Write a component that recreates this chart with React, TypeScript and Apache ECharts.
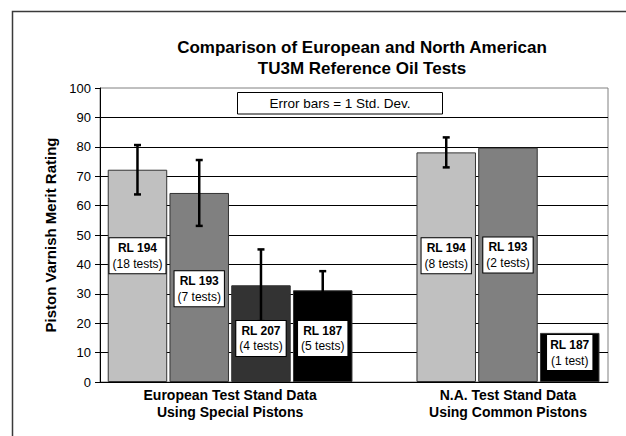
import React, { useEffect, useRef } from "react";
import * as echarts from "echarts";

// ---- data ----
const chartTitle = "Comparison of European and North American\nTU3M Reference Oil Tests";
const yAxisTitle = "Piston Varnish Merit Rating";
const noteText = "Error bars = 1 Std. Dev.";
const groupLabels = [
  "European Test Stand Data\nUsing Special Pistons",
  "N.A. Test Stand Data\nUsing Common Pistons",
];
const oilCodes = ["RL 194", "RL 193", "RL 207", "RL 187", "RL 194", "RL 193", "RL 187"];
const testCounts = [18, 7, 4, 5, 8, 2, 1];
const meanRatings = [72.2, 64.3, 32.9, 31.2, 78.1, 79.7, 16.7];
const stdDevs: (number | null)[] = [8.4, 11.2, 12.2, 6.5, 5.1, null, null];
const barGroups = [0, 0, 0, 0, 1, 1, 1];
// rating level at which each bar's text box sits
const labelLevels = [42.9, 31.7, 14.8, 14.8, 42.9, 43.2, 10.0];
const yTicks = { min: 0, max: 100, interval: 10 };

const oilColors: Record<string, string> = {
  "RL 194": "#C0C0C0",
  "RL 193": "#808080",
  "RL 207": "#333333",
  "RL 187": "#000000",
};

const FONT = "Arial, 'Liberation Sans', Helvetica, sans-serif";

export default function App() {
  const ref = useRef<HTMLDivElement>(null);

  useEffect(() => {
    if (!ref.current) return;
    const chart = echarts.init(ref.current, null, { renderer: "svg" });

    // one empty slot between the two groups
    const slotOf = (i: number) => i + barGroups[i];
    const nSlots = oilCodes.length + groupLabels.length - 1;
    const groupCenters = groupLabels.map((_, g) => {
      const slots = oilCodes.map((_, i) => i).filter((i) => barGroups[i] === g).map(slotOf);
      return (Math.min(...slots) + Math.max(...slots) + 1) / 2;
    });

    const barData = meanRatings.map((v, i) => ({
      value: [slotOf(i) + 0.5, v],
      itemStyle: { color: oilColors[oilCodes[i]] },
    }));
    const errData = meanRatings
      .map((v, i) => (stdDevs[i] == null ? null : [slotOf(i) + 0.5, v, stdDevs[i] as number]))
      .filter((d) => d !== null) as number[][];
    const labelData = labelLevels.map((lv, i) => [slotOf(i) + 0.5, lv, i]);

    const option: any = {
      animation: false,
      backgroundColor: "#ffffff",
      textStyle: { fontFamily: FONT },
      title: {
        text: chartTitle,
        left: 362,
        top: 37,
        textAlign: "center",
        padding: 0,
        textStyle: {
          fontFamily: FONT,
          fontSize: 17,
          fontWeight: "bold",
          color: "#000",
          lineHeight: 21,
        },
      },
      graphic: [
        {
          type: "rect",
          shape: { x: 12.5, y: 11.5, width: 700, height: 500 },
          style: { fill: "none", stroke: "#3a3a3a", lineWidth: 1.5 },
          silent: true,
        },
        {
          type: "rect",
          shape: { x: 237.5, y: 92.5, width: 205, height: 21.5 },
          style: { fill: "#fff", stroke: "#000", lineWidth: 1 },
          z: 10,
        },
        {
          type: "text",
          x: 340,
          y: 103.5,
          style: {
            text: noteText,
            fill: "#000",
            font: `13.5px ${FONT}`,
            textAlign: "center",
            textVerticalAlign: "middle",
          },
          z: 11,
        },
      ],
      grid: [
        {
          left: 100,
          top: 88,
          width: 508,
          height: 294,
          show: true,
          borderColor: "#808080",
          borderWidth: 1,
          backgroundColor: "transparent",
        },
        { left: 106.6, top: 88, width: 494, height: 294 },
      ],
      xAxis: [
        {
          gridIndex: 0,
          type: "value",
          min: 0,
          max: 1,
          axisLine: { show: true, lineStyle: { color: "#000", width: 1 } },
          axisTick: { show: false },
          axisLabel: { show: false },
          splitLine: { show: false },
        },
        {
          gridIndex: 1,
          type: "value",
          min: 0,
          max: nSlots,
          axisLine: { show: false },
          axisTick: { show: false },
          splitLine: { show: false },
          axisLabel: {
            show: true,
            customValues: groupCenters,
            formatter: (v: number) => {
              const g = groupCenters.findIndex((c) => Math.abs(c - v) < 1e-6);
              return g >= 0 ? groupLabels[g] : "";
            },
            margin: 4,
            color: "#000",
            fontFamily: FONT,
            fontSize: 14,
            fontWeight: "bold",
            lineHeight: 17,
          },
        },
      ],
      yAxis: [
        {
          gridIndex: 0,
          type: "value",
          min: yTicks.min,
          max: yTicks.max,
          interval: yTicks.interval,
          name: yAxisTitle,
          nameLocation: "middle",
          nameGap: 32,
          nameTextStyle: {
            fontFamily: FONT,
            fontSize: 15,
            fontWeight: "bold",
            color: "#000",
          },
          axisLine: { show: true, lineStyle: { color: "#000", width: 1 } },
          axisTick: { show: true, inside: false, length: 5, lineStyle: { color: "#000" } },
          axisLabel: { color: "#000", fontFamily: FONT, fontSize: 13, margin: 9 },
          splitLine: {
            show: true,
            showMaxLine: false,
            lineStyle: { color: "#000", width: 1 },
          },
        },
        {
          gridIndex: 1,
          type: "value",
          min: yTicks.min,
          max: yTicks.max,
          show: false,
        },
      ],
      series: [
        {
          type: "bar",
          xAxisIndex: 1,
          yAxisIndex: 1,
          barWidth: 59.5,
          data: barData,
          itemStyle: { borderColor: "#333", borderWidth: 1 },
          z: 2,
        },
        {
          type: "custom",
          xAxisIndex: 1,
          yAxisIndex: 1,
          data: errData,
          z: 5,
          renderItem: (params: any, api: any) => {
            const x = api.value(0);
            const m = api.value(1);
            const s = api.value(2);
            const top = api.coord([x, m + s]);
            const bot = api.coord([x, m - s]);
            const cap = 3.5;
            const style = { stroke: "#000", lineWidth: 2.5, fill: "none" };
            return {
              type: "group",
              children: [
                { type: "line", shape: { x1: top[0], y1: top[1], x2: bot[0], y2: bot[1] }, style },
                { type: "line", shape: { x1: top[0] - cap, y1: top[1], x2: top[0] + cap, y2: top[1] }, style },
                { type: "line", shape: { x1: bot[0] - cap, y1: bot[1], x2: bot[0] + cap, y2: bot[1] }, style },
              ],
            };
          },
        },
        {
          type: "scatter",
          xAxisIndex: 1,
          yAxisIndex: 1,
          data: labelData,
          symbolSize: 1,
          itemStyle: { color: "rgba(0,0,0,0)", opacity: 1 },
          z: 8,
          label: {
            show: true,
            position: "inside",
            backgroundColor: "#fff",
            borderColor: "#000",
            borderWidth: 1,
            padding: [2, 3],
            formatter: (p: any) => {
              const i = p.value[2];
              const n = testCounts[i];
              return `{b|${oilCodes[i]}}\n{n|(${n} test${n === 1 ? "" : "s"})}`;
            },
            rich: {
              b: { fontFamily: FONT, fontSize: 12, fontWeight: "bold", color: "#000", lineHeight: 16, align: "center" },
              n: { fontFamily: FONT, fontSize: 12, color: "#000", lineHeight: 15, align: "center" },
            },
          },
        },
      ],
    };

    chart.setOption(option);
    return () => chart.dispose();
  }, []);

  return (
    <div
      ref={ref}
      style={{ position: "absolute", left: 0, top: 0, width: 626, height: 436 }}
    />
  );
}
